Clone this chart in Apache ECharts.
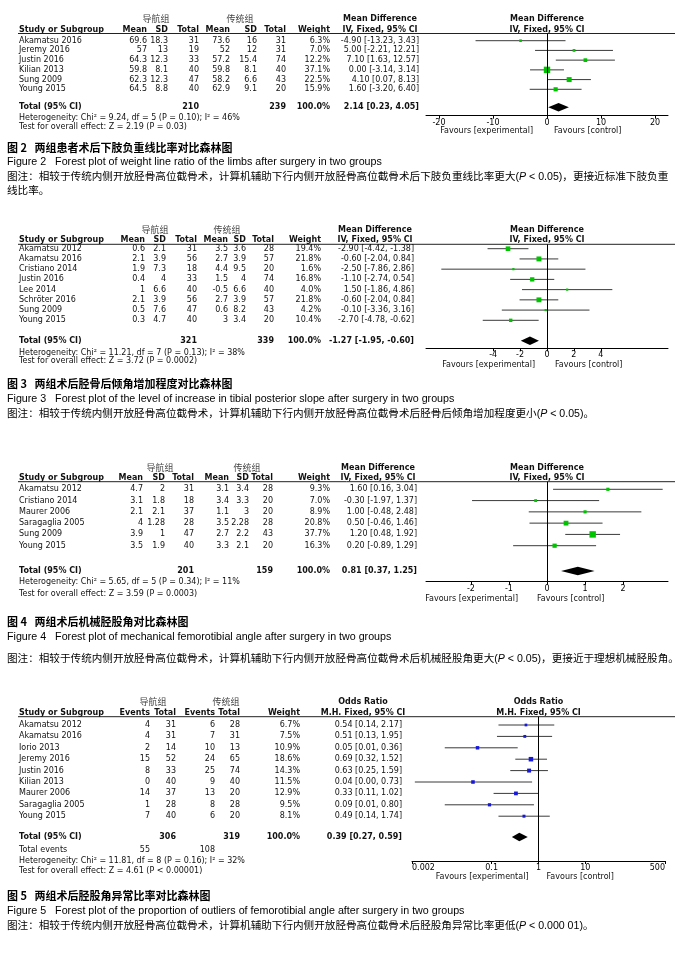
<!DOCTYPE html>
<html><head><meta charset="utf-8">
<script src="https://cdn.jsdelivr.net/npm/echarts@6/dist/echarts.min.js"></script>
<style>html,body{margin:0;padding:0;background:#fff}#c{width:685px;height:958px}</style>
</head><body><div id="c"></div>
<script>
// ================= DATA =================
// Figure 2 (Mean Difference)
const f2Study   = ['Akamatsu 2016','Jeremy 2016','Justin 2016','Kilian 2013','Sung 2009','Young 2015'];
const f2ExpMean = [69.6, 57, 64.3, 59.8, 62.3, 64.5];
const f2ExpSD   = [18.3, 13, 12.3, 8.1, 12.3, 8.8];
const f2ExpN    = [31, 19, 33, 40, 47, 40];
const f2CtlMean = [73.6, 52, 57.2, 59.8, 58.2, 62.9];
const f2CtlSD   = [16, 12, 15.4, 8.1, 6.6, 9.1];
const f2CtlN    = [31, 31, 74, 40, 43, 20];
const f2Weight  = [6.3, 7.0, 12.2, 37.1, 22.5, 15.9];
const f2Est     = [-4.90, 5.00, 7.10, 0.00, 4.10, 1.60];
const f2Lo      = [-13.23, -2.21, 1.63, -3.14, 0.07, -3.20];
const f2Hi      = [3.43, 12.21, 12.57, 3.14, 8.13, 6.40];
const f2TotalN  = [210, 239];
const f2Pooled  = [2.14, 0.23, 4.05];
const f2Het     = 'Heterogeneity: Chi² = 9.24, df = 5 (P = 0.10); I² = 46%';
const f2Test    = 'Test for overall effect: Z = 2.19 (P = 0.03)';
const f2Ticks   = [-20, -10, 0, 10, 20];
const f2TickLab = ['-20', '-10', '0', '10', '20'];
const f2Range   = [-22.4, 22.4];

// Figure 3 (Mean Difference)
const f3Study   = ['Akamatsu 2012','Akamatsu 2016','Cristiano 2014','Justin 2016','Lee 2014','Schröter 2016','Sung 2009','Young 2015'];
const f3ExpMean = [0.6, 2.1, 1.9, 0.4, 1, 2.1, 0.5, 0.3];
const f3ExpSD   = [2.1, 3.9, 7.3, 4, 6.6, 3.9, 7.6, 4.7];
const f3ExpN    = [31, 56, 18, 33, 40, 56, 47, 40];
const f3CtlMean = [3.5, 2.7, 4.4, 1.5, -0.5, 2.7, 0.6, 3];
const f3CtlSD   = [3.6, 3.9, 9.5, 4, 6.6, 3.9, 8.2, 3.4];
const f3CtlN    = [28, 57, 20, 74, 40, 57, 43, 20];
const f3Weight  = [19.4, 21.8, 1.6, 16.8, 4.0, 21.8, 4.2, 10.4];
const f3Est     = [-2.90, -0.60, -2.50, -1.10, 1.50, -0.60, -0.10, -2.70];
const f3Lo      = [-4.42, -2.04, -7.86, -2.74, -1.86, -2.04, -3.36, -4.78];
const f3Hi      = [-1.38, 0.84, 2.86, 0.54, 4.86, 0.84, 3.16, -0.62];
const f3TotalN  = [321, 339];
const f3Pooled  = [-1.27, -1.95, -0.60];
const f3Het     = 'Heterogeneity: Chi² = 11.21, df = 7 (P = 0.13); I² = 38%';
const f3Test    = 'Test for overall effect: Z = 3.72 (P = 0.0002)';
const f3Ticks   = [-4, -2, 0, 2, 4];
const f3TickLab = ['-4', '-2', '0', '2', '4'];
const f3Range   = [-9, 9];

// Figure 4 (Mean Difference)
const f4Study   = ['Akamatsu 2012','Cristiano 2014','Maurer 2006','Saragaglia 2005','Sung 2009','Young 2015'];
const f4ExpMean = [4.7, 3.1, 2.1, 4, 3.9, 3.5];
const f4ExpSD   = [2, 1.8, 2.1, 1.28, 1, 1.9];
const f4ExpN    = [31, 18, 37, 28, 47, 40];
const f4CtlMean = [3.1, 3.4, 1.1, 3.5, 2.7, 3.3];
const f4CtlSD   = [3.4, 3.3, 3, 2.28, 2.2, 2.1];
const f4CtlN    = [28, 20, 20, 28, 43, 20];
const f4Weight  = [9.3, 7.0, 8.9, 20.8, 37.7, 16.3];
const f4Est     = [1.60, -0.30, 1.00, 0.50, 1.20, 0.20];
const f4Lo      = [0.16, -1.97, -0.48, -0.46, 0.48, -0.89];
const f4Hi      = [3.04, 1.37, 2.48, 1.46, 1.92, 1.29];
const f4TotalN  = [201, 159];
const f4Pooled  = [0.81, 0.37, 1.25];
const f4Het     = 'Heterogeneity: Chi² = 5.65, df = 5 (P = 0.34); I² = 11%';
const f4Test    = 'Test for overall effect: Z = 3.59 (P = 0.0003)';
const f4Ticks   = [-2, -1, 0, 1, 2];
const f4TickLab = ['-2', '-1', '0', '1', '2'];
const f4Range   = [-3.18, 3.18];

// Figure 5 (Odds Ratio)
const f5Study   = ['Akamatsu 2012','Akamatsu 2016','Iorio 2013','Jeremy 2016','Justin 2016','Kilian 2013','Maurer 2006','Saragaglia 2005','Young 2015'];
const f5ExpEv   = [4, 4, 2, 15, 8, 0, 14, 1, 7];
const f5ExpN    = [31, 31, 14, 52, 33, 40, 37, 28, 40];
const f5CtlEv   = [6, 7, 10, 24, 25, 9, 13, 8, 6];
const f5CtlN    = [28, 31, 13, 65, 74, 40, 20, 28, 20];
const f5Weight  = [6.7, 7.5, 10.9, 18.6, 14.3, 11.5, 12.9, 9.5, 8.1];
const f5Est     = [0.54, 0.51, 0.05, 0.69, 0.63, 0.04, 0.33, 0.09, 0.49];
const f5Lo      = [0.14, 0.13, 0.01, 0.32, 0.25, 0.0023, 0.11, 0.01, 0.14];
const f5Hi      = [2.17, 1.95, 0.36, 1.52, 1.59, 0.73, 1.02, 0.80, 1.74];
const f5TotalN  = [306, 319];
const f5TotalEv = [55, 108];
const f5Pooled  = [0.39, 0.27, 0.59];
const f5Het     = 'Heterogeneity: Chi² = 11.81, df = 8 (P = 0.16); I² = 32%';
const f5Test    = 'Test for overall effect: Z = 4.61 (P < 0.00001)';
const f5Ticks   = [0.002, 0.1, 1, 10, 500];
const f5TickLab = ['0.002', '0.1', '1', '10', '500'];
const f5Range   = [0.002, 500];

// Captions
const capTitle = ['图 2   两组患者术后下肢负重线比率对比森林图','图 3   两组术后胫骨后倾角增加程度对比森林图','图 4   两组术后机械胫股角对比森林图','图 5   两组术后胫股角异常比率对比森林图'];
const capEn = ['Figure 2   Forest plot of weight line ratio of the limbs after surgery in two groups',
  'Figure 3   Forest plot of the level of increase in tibial posterior slope after surgery in two groups',
  'Figure 4   Forest plot of mechanical femorotibial angle after surgery in two groups',
  'Figure 5   Forest plot of the proportion of outliers of femorotibial angle after surgery in two groups'];
const capNote = [
  ['图注：相较于传统内侧开放胫骨高位截骨术，计算机辅助下行内侧开放胫骨高位截骨术后下肢负重线比率更大({i|P} < 0.05)，更接近标准下肢负重','线比率。'],
  ['图注：相较于传统内侧开放胫骨高位截骨术，计算机辅助下行内侧开放胫骨高位截骨术后胫骨后倾角增加程度更小({i|P} < 0.05)。'],
  ['图注：相较于传统内侧开放胫骨高位截骨术，计算机辅助下行内侧开放胫骨高位截骨术后机械胫股角更大({i|P} < 0.05)，更接近于理想机械胫股角。'],
  ['图注：相较于传统内侧开放胫骨高位截骨术，计算机辅助下行内侧开放胫骨高位截骨术后胫股角异常比率更低({i|P} < 0.000 01)。']
];

// ================= LAYOUT (pixels) =================
const LAYOUT = [
  {groupY:19, colY:30, lineY:33.5, row0:40.7, step:9.72, totalY:107.3, hetY:118.3, testY:127, axisY:115.7,
   favY:131, favL:-14, favR:7, plotL:426, plotR:668, colsX:[147,168,199,230,257,286], wtX:330, estX:419, grpX:[156,240],
   capY:[148,162.5,177,191]},
  {groupY:230, colY:240, lineY:244.3, row0:248.7, step:10.23, totalY:340.7, hetY:352.7, testY:360.7, axisY:348.3,
   favY:364.7, favL:-12, favR:8, plotL:426, plotR:668, colsX:[145,166,197,228,246,274], wtX:321, estX:414, grpX:[155,227],
   capY:[384,399,414]},
  {groupY:467.7, colY:478, lineY:481.7, row0:489.3, step:11.28, totalY:571, hetY:582, testY:594, axisY:581.7,
   favY:599, favL:-29, favR:-10, plotL:426, plotR:668, colsX:[143,165,194,229,249,273], wtX:330, estX:417, grpX:[160,247],
   capY:[622,637.5,659]},
  {groupY:701.7, colY:713.3, lineY:716.7, row0:725, step:11.4, totalY:837, evY:850, hetY:860.5, testY:871, axisY:861,
   favY:877, favL:-10, favR:8, plotL:412, plotR:665, colsX:[150,176,215,240], wtX:300, estX:402, grpX:[153,226],
   capY:[896,911,926.5]}
];

const figs = [
  {study:f2Study, cols:[f2ExpMean,f2ExpSD,f2ExpN,f2CtlMean,f2CtlSD,f2CtlN], colHead:['Mean','SD','Total','Mean','SD','Total'], totCols:[2,5],
   weight:f2Weight, est:f2Est, lo:f2Lo, hi:f2Hi, totalN:f2TotalN, pooled:f2Pooled, het:f2Het, test:f2Test,
   ticks:f2Ticks, tickLab:f2TickLab, range:f2Range, log:false, nullV:0, head:['Mean Difference','IV, Fixed, 95% CI'], color:'#00c400'},
  {study:f3Study, cols:[f3ExpMean,f3ExpSD,f3ExpN,f3CtlMean,f3CtlSD,f3CtlN], colHead:['Mean','SD','Total','Mean','SD','Total'], totCols:[2,5],
   weight:f3Weight, est:f3Est, lo:f3Lo, hi:f3Hi, totalN:f3TotalN, pooled:f3Pooled, het:f3Het, test:f3Test,
   ticks:f3Ticks, tickLab:f3TickLab, range:f3Range, log:false, nullV:0, head:['Mean Difference','IV, Fixed, 95% CI'], color:'#00c400'},
  {study:f4Study, cols:[f4ExpMean,f4ExpSD,f4ExpN,f4CtlMean,f4CtlSD,f4CtlN], colHead:['Mean','SD','Total','Mean','SD','Total'], totCols:[2,5],
   weight:f4Weight, est:f4Est, lo:f4Lo, hi:f4Hi, totalN:f4TotalN, pooled:f4Pooled, het:f4Het, test:f4Test,
   ticks:f4Ticks, tickLab:f4TickLab, range:f4Range, log:false, nullV:0, head:['Mean Difference','IV, Fixed, 95% CI'], color:'#00c400'},
  {study:f5Study, cols:[f5ExpEv,f5ExpN,f5CtlEv,f5CtlN], colHead:['Events','Total','Events','Total'], totCols:[1,3],
   weight:f5Weight, est:f5Est, lo:f5Lo, hi:f5Hi, totalN:f5TotalN, pooled:f5Pooled, het:f5Het, test:f5Test,
   ticks:f5Ticks, tickLab:f5TickLab, range:f5Range, log:true, nullV:1, head:['Odds Ratio','M.H. Fixed, 95% CI'], color:'#1818d8',
   totalEv:f5TotalEv}
];

// ================= CHART =================
const FONT = 'DejaVu Sans';
const TXT = '#111';
const chart = echarts.init(document.getElementById('c'), null, {width:685, height:958});

function labelFor(ticks, labs, v, isLog) {
  let best = 0, bd = Infinity;
  ticks.forEach((t, j) => {
    const d = isLog ? Math.abs(Math.log(v) - Math.log(t)) : Math.abs(v - t);
    if (d < bd) { bd = d; best = j; }
  });
  return labs[best];
}
const ciRender = (params, api) => {
  const a = api.coord([api.value(0), api.value(2)]);
  const b = api.coord([api.value(1), api.value(2)]);
  return {type:'line', shape:{x1:a[0], y1:a[1], x2:b[0], y2:b[1]}, style:{stroke:'#3a3a3a', lineWidth:1}};
};
const diamondRender = (params, api) => {
  const y = api.value(3);
  const l = api.coord([api.value(0), y]);
  const m = api.coord([api.value(1), y]);
  const r = api.coord([api.value(2), y]);
  const h = 4.2;
  return {type:'polygon', shape:{points:[[l[0], l[1]], [m[0], m[1]-h], [r[0], r[1]], [m[0], m[1]+h]]}, style:{fill:'#000'}};
};

const grids = [], xAxes = [], yAxes = [], series = [];
figs.forEach((f, k) => {
  const L = LAYOUT[k];
  const toRow = y => (y - L.row0) / L.step;
  grids.push({left:L.plotL, top:L.lineY, width:L.plotR - L.plotL, height:L.axisY - L.lineY});
  yAxes.push({gridIndex:k, type:'value', inverse:true, min:toRow(L.lineY), max:toRow(L.axisY), show:false});
  const xa = {gridIndex:k, type:f.log ? 'log' : 'value', min:f.range[0], max:f.range[1], position:'bottom',
    axisLine:{show:true, onZero:false, lineStyle:{color:'#000', width:1}},
    axisTick:{show:true, customValues:f.ticks, length:3, lineStyle:{color:'#000', width:1}},
    axisLabel:{show:true, customValues:f.ticks, formatter:v => labelFor(f.ticks, f.tickLab, v, f.log),
      fontSize:8, fontFamily:FONT, color:'#000', margin:3},
    splitLine:{show:false}};
  if (f.log) { xa.logBase = 10; xa.axisLabel.alignMinLabel = 'left'; xa.axisLabel.alignMaxLabel = 'right'; }
  xAxes.push(xa);
  const rows = f.study.map((_, i) => i);
  series.push({type:'custom', xAxisIndex:k, yAxisIndex:k, renderItem:ciRender, silent:true,
    data:rows.map(i => [f.lo[i], f.hi[i], i]), encode:{x:[0,1], y:2}, z:2,
    markLine:{silent:true, symbol:['none','none'], label:{show:false}, animation:false,
      lineStyle:{color:'#000', type:'solid', width:1}, data:[{xAxis:f.nullV}]}});
  series.push({type:'scatter', xAxisIndex:k, yAxisIndex:k, symbol:'rect', silent:true,
    symbolSize:v => Math.max(2.2, 1.05 * Math.sqrt(v[2])),
    data:rows.map(i => [f.est[i], i, f.weight[i]]), itemStyle:{color:f.color, opacity:1}, z:3});
  series.push({type:'custom', xAxisIndex:k, yAxisIndex:k, renderItem:diamondRender, silent:true,
    data:[[f.pooled[1], f.pooled[0], f.pooled[2], toRow(L.totalY)]], encode:{x:[0,1,2], y:3}, z:3});
});

chart.setOption({
  animation:false, backgroundColor:'#fff',
  grid:grids, xAxis:xAxes, yAxis:yAxes, series:series
});

// ================= TABLE TEXT & CAPTIONS =================
function txt(x, y, s, o) {
  o = o || {};
  const st = {text:s, fontSize:o.size || 8, fontFamily:o.family || FONT, fontWeight:o.bold ? 'bold' : 'normal',
    fill:o.color || TXT, textAlign:o.align || 'left', align:o.align || 'left',
    textVerticalAlign:'middle', verticalAlign:'middle'};
  if (o.rich) st.rich = o.rich;
  return {type:'text', x:x, y:y, silent:true, style:st};
}
const fmt2 = v => v.toFixed(2);
const ci = (e, l, h) => fmt2(e) + ' [' + fmt2(l) + ', ' + fmt2(h) + ']';
const g = [];
figs.forEach((f, k) => {
  const L = LAYOUT[k];
  const rowY = i => L.row0 + i * L.step;
  const nullPx = chart.convertToPixel({xAxisIndex:k}, f.nullV);
  const headC = L.estX - 39;
  // group headers
  g.push(txt(L.grpX[0], L.groupY, '导航组', {family:'Noto Sans CJK SC', size:9, align:'center', color:'#444'}));
  g.push(txt(L.grpX[1], L.groupY, '传统组', {family:'Noto Sans CJK SC', size:9, align:'center', color:'#444'}));
  g.push(txt(headC, L.groupY, f.head[0], {bold:true, align:'center'}));
  g.push(txt(nullPx, L.groupY, f.head[0], {bold:true, align:'center'}));
  // column headers
  g.push(txt(19, L.colY, 'Study or Subgroup', {bold:true}));
  f.colHead.forEach((h, j) => g.push(txt(L.colsX[j], L.colY, h, {bold:true, align:'right'})));
  g.push(txt(L.wtX, L.colY, 'Weight', {bold:true, align:'right'}));
  g.push(txt(headC, L.colY, f.head[1], {bold:true, align:'center'}));
  g.push(txt(nullPx, L.colY, f.head[1], {bold:true, align:'center'}));
  g.push({type:'line', silent:true, shape:{x1:18, y1:L.lineY, x2:675, y2:L.lineY}, style:{stroke:'#222', lineWidth:1}});
  // rows
  f.study.forEach((s, i) => {
    const y = rowY(i);
    g.push(txt(19, y, s));
    f.cols.forEach((c, j) => g.push(txt(L.colsX[j], y, String(c[i]), {align:'right'})));
    g.push(txt(L.wtX, y, f.weight[i].toFixed(1) + '%', {align:'right'}));
    g.push(txt(L.estX, y, ci(f.est[i], f.lo[i], f.hi[i]), {align:'right'}));
  });
  // total
  g.push(txt(19, L.totalY, 'Total (95% CI)', {bold:true}));
  g.push(txt(L.colsX[f.totCols[0]], L.totalY, String(f.totalN[0]), {bold:true, align:'right'}));
  g.push(txt(L.colsX[f.totCols[1]], L.totalY, String(f.totalN[1]), {bold:true, align:'right'}));
  g.push(txt(L.wtX, L.totalY, '100.0%', {bold:true, align:'right'}));
  g.push(txt(L.estX, L.totalY, ci(f.pooled[0], f.pooled[1], f.pooled[2]), {bold:true, align:'right'}));
  if (f.totalEv) {
    g.push(txt(19, L.evY, 'Total events'));
    g.push(txt(L.colsX[0], L.evY, String(f.totalEv[0]), {align:'right'}));
    g.push(txt(L.colsX[2], L.evY, String(f.totalEv[1]), {align:'right'}));
  }
  g.push(txt(19, L.hetY, f.het));
  g.push(txt(19, L.testY, f.test));
  // favours
  g.push(txt(nullPx + L.favL, L.favY, 'Favours [experimental]', {align:'right'}));
  g.push(txt(nullPx + L.favR, L.favY, 'Favours [control]', {align:'left'}));
  // captions
  const C = L.capY;
  g.push(txt(7, C[0], capTitle[k], {family:'Noto Sans CJK SC', size:11, bold:true, color:'#000'}));
  g.push(txt(7, C[1], capEn[k], {family:'Liberation Sans', size:10.7, color:'#000'}));
  capNote[k].forEach((line, j) => {
    g.push(txt(7, C[2 + j], line, {family:'Liberation Sans, Noto Sans CJK SC', size:10.6, color:'#000',
      rich:{i:{fontStyle:'italic', fontSize:10.6, fontFamily:'Liberation Sans', fill:'#000'}}}));
  });
});
chart.setOption({graphic:{elements:g}});
</script>
</body></html>
